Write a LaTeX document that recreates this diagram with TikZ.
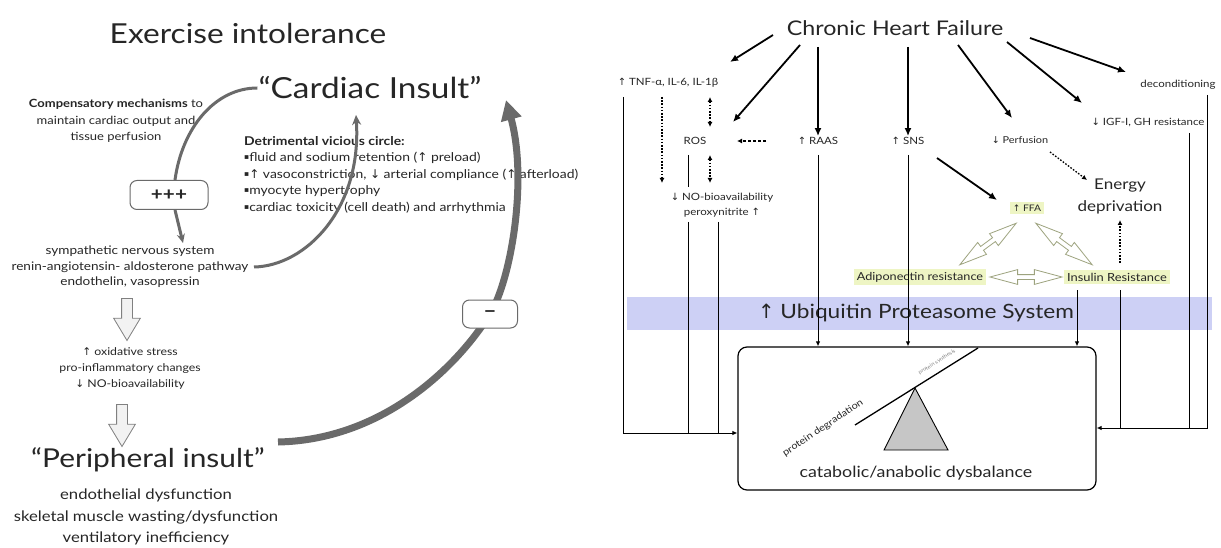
\documentclass[tikz,border=0pt]{standalone}
\usepackage{fontspec}
\setmainfont{Lato}[FakeStretch=1.15]
\newfontfamily\symf{DejaVu Sans}
\newcommand\ua{{\symf ↑}}
\newcommand\da{{\symf ↓}}
\newcommand\bul{\raisebox{0.28ex}{\symf\fontsize{7.5}{7.5}\selectfont ▪}}
\newcommand\fs[2]{\fontsize{#1}{#2}\selectfont}
\usetikzlibrary{arrows.meta,shapes.arrows,shapes.misc}
\definecolor{curvegray}{HTML}{6A6A6A}
\definecolor{hl}{HTML}{EEF5C4}
\definecolor{bandc}{HTML}{CDD0F5}
\definecolor{dblc}{HTML}{9DA37E}
\definecolor{txtg}{HTML}{262626}
\tikzset{
  every node/.style={inner sep=1pt, text=txtg},
  carr/.style={line width=1.8pt, -{Latex[length=8pt,width=7pt]}},
  tarr/.style={line width=1pt, -{Latex[length=5pt,width=4.5pt]}},
  tline/.style={line width=1pt},
  dotarr/.style={line width=1.3pt, dash pattern=on 1.6pt off 1.6pt, -{Latex[length=5pt,width=5pt]}},
  dotdbl/.style={line width=1.3pt, dash pattern=on 1.6pt off 1.6pt, {Latex[length=5pt,width=5pt]}-{Latex[length=5pt,width=5pt]}},
  dasharr/.style={line width=1.3pt, dash pattern=on 3pt off 2pt, -{Latex[length=5pt,width=5pt]}},
  gcurve/.style={draw=curvegray, line width=3pt},
  gthick/.style={draw=curvegray, line width=7pt, -{Triangle[length=20pt,width=20pt]}},
  blockdown/.style={shape=single arrow, draw=gray, fill=gray!10, line width=0.8pt, rotate=-90,
     minimum height=42pt, inner sep=5pt, single arrow head extend=8pt, single arrow tip angle=62},
  dblarr/.style={shape=double arrow, draw=dblc, fill=white, line width=0.8pt, minimum height=#1,
     inner sep=2pt, double arrow head extend=5pt, double arrow tip angle=30},
  hlbox/.style={fill=hl, inner sep=3pt},
  rbox/.style={draw=curvegray, rounded corners=7pt, fill=white, line width=1pt},
}
\begin{document}
\begin{tikzpicture}[x=1pt,y=-1pt]
\useasboundingbox (0,0) rectangle (1221,548);
\fill[white] (0,0) rectangle (1221,548);

% ---------------- left panel ----------------
\node[font=\fs{27.5}{32}] (title) at (248,33) {Exercise intolerance};
\node[font=\fs{29}{32}] (ci) at (370,88) {“Cardiac Insult”};
\node[font=\fs{11.3}{16.5}, align=center] (comp) at (116,121) {\textbf{Compensatory mechanisms} to\\maintain cardiac output and\\tissue perfusion};
\node[font=\fs{12.1}{16.5}, align=left, anchor=north west] (vic) at (243,135)
 {\textbf{Detrimental vicious circle:}\\
  \bul fluid and sodium retention (\ua{} preload)\\
  \bul\ua{} vasoconstriction, \da{} arterial compliance (\ua{} afterload)\\
  \bul myocyte hypertrophy\\
  \bul cardiac toxicity (cell death) and arrhythmia};
\node[rbox, minimum width=78pt, minimum height=29pt, font=\fs{18}{20}\bfseries] (pp) at (169,195) {+++};
\node[font=\fs{11.8}{15.5}, align=center] (sns) at (130,267) {sympathetic nervous system\\renin-angiotensin- aldosterone pathway\\endothelin, vasopressin};
\node[font=\fs{10.7}{16}, align=center] (ox) at (130,368) {\ua{} oxidative stress\\pro-inflammatory changes\\\da{} NO-bioavailability};
\node[font=\fs{26}{32}] (pi) at (148,460) {“Peripheral insult”};
\node[font=\fs{14.5}{21.5}, align=center] (pid) at (146,517) {endothelial dysfunction\\skeletal muscle wasting/dysfunction\\ventilatory inefficiency};

\node[blockdown] (b1) at (127,315) {};
\node[blockdown] (b2) at (122,421) {};

% gray curves
\draw[gcurve] (ci.west) .. controls (215,88) and (182,128) .. ([xshift=6pt]pp.north);
\coordinate (snstop) at (183,243);
\draw[gcurve, -{Stealth[length=9pt,width=8pt]}] ([xshift=6pt]pp.south) -- (snstop);
\coordinate (pathend) at (254,267);
\draw[gcurve, -{Stealth[length=10pt,width=9pt]}] (pathend) .. controls (305,266) and (362,210) .. (356,115);
\coordinate (pistart) at (278,442);
\coordinate (ciend) at (506,100);
\coordinate (mid) at (490,314);
\draw[gthick] (pistart) .. controls (380,440) and (455,370) .. (mid) .. controls (511,280) and (528,180) .. (ciend);
\node[rbox, minimum width=55pt, minimum height=28pt, font=\fs{20}{20}\bfseries] (minus) at (mid) {–};

% ---------------- right panel ----------------
\fill[bandc] (627,297) rectangle (1212,330);
\node[font=\fs{19.7}{24}] (ups) at (916,313) {\ua{} Ubiquitin Proteasome System};

\node[font=\fs{20.2}{26}] (chf) at (895,28) {Chronic Heart Failure};
\node[font=\fs{10}{10}] (tnf) at (668,83) {\ua{} TNF-α, IL-6, IL-1β};
\node[font=\fs{10}{10}] (ros) at (695,141) {ROS};
\node[font=\fs{10}{10}] (raas) at (818,141) {\ua{} RAAS};
\node[font=\fs{10}{10}] (sns2) at (908,141) {\ua{} SNS};
\node[font=\fs{9.5}{10}] (perf) at (1020,140) {\da{} Perfusion};
\node[font=\fs{10}{10}] (igf) at (1148,123) {\da{} IGF-I, GH resistance};
\node[font=\fs{10}{10}] (decond) at (1178,85) {deconditioning};
\node[font=\fs{10}{15}, align=center] (nob) at (722,205) {\da{} NO-bioavailability\\peroxynitrite \ua};
\node[font=\fs{14.8}{22}, align=center] (energy) at (1120,196) {Energy\\deprivation};
\node[hlbox, font=\fs{9}{12}] (ffa) at (1027,208) {\ua{} FFA};
\node[hlbox, font=\fs{11}{12}] (adipo) at (920,277) {Adiponectin resistance};
\node[hlbox, font=\fs{11.2}{12}] (ins) at (1117,277) {Insulin Resistance};

% CHF arrows
\draw[carr] (773,35) -- (730,62);
\draw[carr] (800,45) -- (733,122);
\draw[carr] (818,47) -- (raas.north);
\draw[carr] (908,47) -- (sns2.north);
\draw[carr] (958,45) -- (1012,118);
\draw[carr] (1007,42) -- (1082,103);
\draw[carr] (1030,38) -- (1126,72);

% dotted / dashed
\draw[dotarr] (662,97) -- (662,183);
\draw[dotdbl] (710,97) -- (710,127);
\draw[dotdbl] (710,155) -- (710,183);
\coordinate (rosr) at (737,141);
\draw[dasharr] (766,141) -- (rosr);
\draw[tline] (688,155) -- (688,187);
\draw[dotarr] (1050,152) -- (1087,180);
\draw[dotarr] (1120,263) -- (1120,220);
\draw[carr] (937,158) -- (997,200);

% double arrows
\node[dblarr=70pt, rotate=36.4] (d1) at (988,244) {};
\node[dblarr=70pt, rotate=-36.4] (d2) at (1064,244) {};
\node[dblarr=72pt] (d3) at (1026,277) {};

% box
\node[draw, rounded corners=9pt, line width=1.2pt, minimum width=358pt, minimum height=143pt] (bal) at (917,418.5) {};
\node[font=\fs{15.5}{16}] (cad) at (916,473) {catabolic/anabolic dysbalance};

% lines into box
\draw[tarr] (623,97) |- (bal.west |- 0,433);
\draw[tline] (688,222) -- (688,433);
\draw[tline] (718,222) -- (718,433);
\draw[tarr] (818,155) -- (818,0 |- bal.north);
\draw[tarr] (908,155) -- (908,0 |- bal.north);
\draw[tarr] (1077,290) -- (1077,0 |- bal.north);
\draw[tarr] (1207,95) |- (bal.east |- 0,428);
\draw[tline] (1189,133) -- (1189,428);
\draw[tline] (1120,290) -- (1120,428);

% balance
\draw[fill=gray!45, line width=0.9pt] (915,388) -- (948,450) -- (884,450) -- cycle;
\draw[line width=1.3pt] (855,425) -- (978,348);
\node[font=\fs{9.5}{10}, rotate=33.7] (pdeg) at (823,428) {protein degradation};
\node[font=\fs{5}{5}, rotate=32.5, text=gray] (psyn) at (937,362) {protein synthesis};
\end{tikzpicture}
\end{document}
